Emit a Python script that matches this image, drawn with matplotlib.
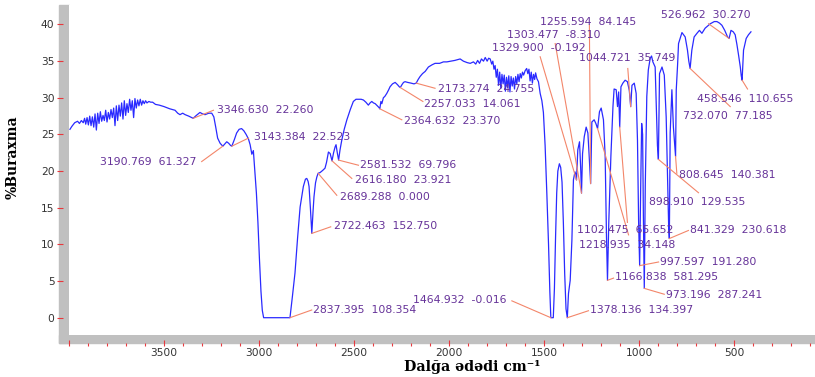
import matplotlib
matplotlib.use("Agg")
import matplotlib.pyplot as plt
import numpy as np
from matplotlib.patches import Rectangle
from matplotlib.ticker import MultipleLocator

# IR transmission spectrum, wavenumber (cm-1) vs %T
WAVENUMBER = [
    3995, 3985, 3970, 3955, 3945, 3935, 3925, 3918, 3912, 3905, 3898, 3891,
    3884, 3877, 3870, 3863, 3856, 3849, 3842, 3835, 3828, 3821, 3814, 3807,
    3800, 3793, 3786, 3779, 3772, 3765, 3758, 3751, 3744, 3737, 3730, 3723,
    3716, 3709, 3702, 3695, 3688, 3681, 3674, 3667, 3660, 3653, 3646, 3639,
    3632, 3625, 3618, 3611, 3604, 3597, 3590, 3580, 3570, 3560, 3545, 3525,
    3500, 3470, 3442, 3428, 3416, 3402, 3389, 3370, 3346.630, 3330, 3311,
    3297, 3284, 3265, 3249, 3238, 3228, 3218, 3205, 3198, 3190.769, 3180,
    3170, 3160, 3150, 3143.384, 3130, 3118, 3105, 3092, 3080, 3068, 3056,
    3047, 3038, 3030, 3022, 3014, 3006, 2998, 2990, 2983, 2976, 2837.395,
    2825, 2811, 2797, 2784, 2767, 2756, 2749, 2742, 2737, 2730, 2722.463,
    2716, 2711, 2703, 2696, 2689.288, 2679, 2665, 2653, 2645, 2635, 2626,
    2616.180, 2608, 2600, 2595, 2589, 2581.532, 2574, 2565, 2552, 2538, 2520,
    2504, 2490, 2477, 2463, 2451, 2438, 2425, 2416, 2407, 2398, 2389, 2378,
    2370, 2364.632, 2359, 2354, 2346, 2338, 2328, 2318, 2311, 2298, 2284,
    2272, 2262, 2257.033, 2248, 2240, 2232, 2218, 2200, 2185, 2173.274, 2163,
    2153, 2140, 2126, 2109, 2090, 2074, 2050, 2030, 2012, 1990, 1970, 1955,
    1942, 1925, 1905, 1889, 1872, 1860, 1850, 1840, 1830, 1819, 1810, 1800,
    1792, 1784, 1776, 1770, 1764, 1758, 1752, 1746, 1740, 1734, 1728, 1722,
    1716, 1710, 1704, 1698, 1692, 1686, 1680, 1674, 1668, 1662, 1656, 1650,
    1644, 1638, 1632, 1626, 1620, 1614, 1608, 1600, 1592, 1586, 1580, 1574,
    1568, 1562, 1556, 1550, 1545, 1538, 1530, 1521, 1512, 1504, 1495, 1486,
    1477, 1470, 1464.932, 1452, 1446, 1440, 1434, 1428, 1420, 1413, 1406,
    1399, 1392, 1385, 1378.136, 1372, 1363, 1354, 1346, 1338, 1333, 1329.900,
    1323, 1314, 1308, 1303.477, 1298, 1289, 1279, 1270, 1263, 1255.594, 1249,
    1237, 1228, 1218.935, 1209, 1200, 1188, 1179, 1172, 1166.838, 1160, 1149,
    1138, 1132, 1121, 1114, 1108, 1102.475, 1096, 1086, 1074, 1062, 1052,
    1044.721, 1038, 1026, 1016, 1009, 1003, 997.597, 992, 987, 982, 978,
    973.196, 968, 960, 952, 942, 935, 928, 916, 910, 904, 898.910, 893, 880,
    868, 858, 850, 845, 841.329, 837, 828, 820, 813, 808.645, 805, 798, 793,
    775, 758, 746, 739, 732.070, 723, 711, 696, 683, 670, 653, 626, 605, 591,
    578, 565, 550, 535, 526.962, 517, 505, 495, 486, 477, 468, 463, 458.546,
    451, 437, 425, 412,
]
TRANSMITTANCE = [
    25.7, 26.1, 26.6, 26.8, 26.5, 26.9, 26.6, 27.2, 26.4, 27.3, 26.3, 27.5,
    26.2, 27.4, 26.0, 27.8, 25.6, 27.9, 26.5, 28.1, 26.8, 27.6, 26.9, 28.3,
    26.7, 28.0, 27.1, 28.4, 27.3, 28.6, 26.2, 28.9, 26.9, 29.0, 27.5, 29.3,
    27.1, 29.6, 27.6, 29.2, 28.0, 29.8, 28.3, 29.6, 27.3, 29.9, 28.6, 29.7,
    28.9, 29.8, 29.0, 29.6, 29.2, 29.6, 29.3, 29.5, 29.4, 29.4, 29.1, 29.0,
    28.8, 28.5, 28.3, 27.9, 27.7, 27.9, 27.7, 27.5, 27.2, 27.6, 28.0,
    27.8, 27.7, 27.9, 27.9, 27.4, 26.0, 24.5, 23.8, 23.6, 23.4, 23.7,
    24.0, 23.8, 23.5, 23.4, 24.3, 25.2, 25.7, 25.8, 25.5, 25.0, 24.4,
    23.6, 22.3, 22.8, 20.0, 17.0, 13.0, 8.0, 3.6, 1.0, 0.0, 0.0,
    2.8, 6.1, 11.0, 15.1, 17.9, 18.9, 19.0, 18.6, 17.9, 15.0, 11.5,
    14.5, 16.5, 18.4, 19.2, 19.7, 19.8, 20.1, 20.4, 21.2, 22.6, 22.4,
    21.4, 22.5, 23.3, 23.6, 22.6, 21.5, 22.9, 24.2, 25.7, 27.0, 28.4,
    29.5, 29.8, 29.8, 29.8, 29.7, 29.4, 29.0, 29.3, 29.5, 29.3, 29.2, 28.9,
    28.7, 28.5, 29.5, 29.2, 30.0, 30.2, 30.6, 31.1, 31.5, 31.9, 32.1,
    31.8, 31.5, 31.4, 31.8, 32.1, 32.2, 32.1, 32.0, 31.9, 32.0, 32.5,
    32.9, 33.3, 33.6, 34.2, 34.5, 34.7, 34.7, 34.9, 34.9, 35.0, 35.1, 35.2,
    35.3, 35.0, 34.8, 34.7, 34.9, 34.6, 35.1, 34.7, 35.3, 35.0, 35.5, 35.0,
    35.4, 35.3, 34.6, 35.0, 33.9, 34.4, 32.8, 33.9, 31.7, 33.5, 31.3, 33.2,
    31.9, 33.1, 30.9, 32.8, 31.4, 33.0, 30.8, 32.9, 31.6, 32.7, 31.2, 32.9,
    31.9, 33.2, 32.2, 33.3, 32.7, 33.5, 33.1, 33.7, 34.0, 33.3, 33.9, 32.3,
    33.5, 32.0, 33.2, 32.5, 33.4, 32.6, 32.2, 30.6, 29.6, 28.0, 23.5, 17.0,
    10.0, 3.5, 0.0, 0.0, 4.0, 11.0, 17.0, 20.0, 21.0, 20.5, 18.5,
    13.0, 6.0, 1.2, 0.0, 3.3, 5.1, 10.6, 18.8, 19.9, 19.5, 18.8,
    22.9, 24.0, 20.5, 17.0, 22.4, 24.7, 26.0, 25.2, 22.0, 18.3, 26.7,
    27.0, 26.5, 25.8, 28.1, 28.6, 27.0, 22.0, 11.0, 5.1, 13.0, 22.0,
    28.8, 31.2, 31.1, 28.8, 30.8, 26.0, 31.5, 32.0, 32.4, 32.2, 31.0,
    28.8, 31.7, 32.0, 30.6, 24.2, 13.0, 7.1, 18.0, 26.5, 25.0, 14.0,
    4.0, 18.0, 30.2, 33.8, 35.4, 35.7, 34.9, 34.2, 29.0, 23.5, 21.6, 33.3, 34.2,
    33.1, 27.4, 18.0, 12.5, 10.8, 25.2, 31.1, 26.0, 23.5, 22.0, 31.1, 34.5, 37.4,
    38.9, 38.3, 36.5, 35.0, 34.0, 36.5, 38.3, 38.8, 39.2, 38.8, 39.5, 40.1, 40.4, 40.4,
    40.2, 39.9, 39.2, 38.3, 38.1, 39.2, 39.0, 38.6, 37.3, 35.8, 34.2, 33.0, 32.4,
    36.5, 38.1, 38.6, 39.0,
]

# peak picks: wavenumber and the instrument's second column
PEAK_WN = [
    3346.630, 3143.384, 3190.769, 2581.532, 2616.180, 2689.288, 2722.463,
    2837.395, 2364.632, 2257.033, 2173.274, 1464.932, 1378.136, 1329.900,
    1303.477, 1255.594, 1218.935, 1102.475, 1166.838, 1044.721, 997.597,
    973.196, 841.329, 898.910, 808.645, 732.070, 458.546, 526.962,
]
PEAK_VAL = [
    22.260, 22.523, 61.327, 69.796, 23.921, 0.000, 152.750,
    108.354, 23.370, 14.061, 24.755, -0.016, 134.397, -0.192,
    -8.310, 84.145, 34.148, 65.652, 581.295, 35.749, 191.280,
    287.241, 230.618, 129.535, 140.381, 77.185, 110.655, 30.270,
]

# label placement: leader end (x, y), text anchor (x, y), alignment
LABEL_LAYOUT = [
    ((3240, 28.3), (3223, 28.3), "left"),
    ((3056, 24.5), (3025, 24.7), "left"),
    ((3302, 21.3), (3328, 21.3), "right"),
    ((2477, 20.8), (2468, 20.8), "left"),
    ((2512, 19.0), (2495, 18.8), "left"),
    ((2591, 16.7), (2574, 16.5), "left"),
    ((2623, 12.4), (2605, 12.5), "left"),
    ((2723, 1.05), (2714, 1.05), "left"),
    ((2249, 27.0), (2240, 26.9), "left"),
    ((2138, 29.5), (2130, 29.15), "left"),
    ((2074, 31.3), (2056, 31.2), "left"),
    ((1670, 2.3), (1696, 2.4), "right"),
    ((1267, 0.95), (1258, 1.05), "left"),
    ((1521, 35.6), (1776, 36.75), "left"),
    ((1442, 37.4), (1696, 38.6), "left"),
    ((1262, 39.9), (1521, 40.4), "left"),
    ((1056, 11.3), (1319, 9.9), "left"),
    ((1062, 13.0), (1328, 12.0), "left"),
    ((1135, 5.4), (1126, 5.6), "left"),
    ((1060, 34.0), (1319, 35.4), "left"),
    ((898, 7.6), (890, 7.6), "left"),
    ((868, 3.2), (858, 3.1), "left"),
    ((741, 11.9), (732, 11.9), "left"),
    ((688, 17.05), (951, 15.8), "left"),
    ((802, 19.7), (793, 19.5), "left"),
    ((521, 28.8), (767, 27.5), "left"),
    ((430, 31.2), (696, 29.9), "left"),
    ((635, 40.1), (886, 41.3), "left"),
]

W, H = 815, 377
LINE_BLUE = "#2a2aff"
LEADER = "#f3866a"
LABEL_PURPLE = "#663399"
BAND_GRAY = "#c0c0c0"
TICK_RED = "#e8383d"


def draw_frame(fig):
    # gray bands standing in for the left and bottom axis lines
    fig.patches.append(Rectangle((59 / W, 1 - 343 / H), 10 / W, 338 / H,
                                 transform=fig.transFigure, color=BAND_GRAY,
                                 zorder=-1))
    fig.patches.append(Rectangle((59 / W, 1 - 343 / H), 756 / W, 8 / H,
                                 transform=fig.transFigure, color=BAND_GRAY,
                                 zorder=-1))


def style_axes(ax):
    for side in ["top", "right", "left", "bottom"]:
        ax.spines[side].set_visible(False)
    ax.spines["left"].set_position(("outward", 9))
    ax.spines["bottom"].set_position(("outward", 8))

    ax.set_xlim(4000, 75)
    ax.set_ylim(-2.36, 42.66)
    ax.set_xticks(range(4000, 499, -500))
    ax.set_xticklabels([""] + [str(v) for v in range(3500, 499, -500)])
    ax.xaxis.set_minor_locator(MultipleLocator(100))
    ax.set_yticks(range(0, 41, 5))

    ax.tick_params(axis="both", which="both", direction="in", color=TICK_RED,
                   width=0.8, labelsize=7.7, labelcolor="#333333")
    ax.tick_params(axis="y", which="major", length=4.3, pad=1.4)
    ax.tick_params(axis="x", which="major", length=4.3, pad=1.6)
    ax.tick_params(axis="x", which="minor", length=2.2)


def label_peaks(ax):
    wn = np.array(WAVENUMBER)[::-1]
    tr = np.array(TRANSMITTANCE)[::-1]
    for w, val, (lead, txt, ha) in zip(PEAK_WN, PEAK_VAL, LABEL_LAYOUT):
        y_curve = np.interp(w, wn, tr)
        ax.plot([w, lead[0]], [y_curve, lead[1]], color=LEADER, lw=0.8,
                zorder=3)
        ax.text(txt[0], txt[1], f"{w:.3f}  {val:.3f}", ha=ha, va="center",
                fontsize=7.8, color=LABEL_PURPLE, zorder=4)


def main():
    fig = plt.figure(figsize=(W / 100, H / 100), dpi=100)
    ax = fig.add_axes([69 / W, 1 - 335 / H, 746 / W, 330 / H])
    draw_frame(fig)

    ax.plot(WAVENUMBER, TRANSMITTANCE, color=LINE_BLUE, lw=0.9, zorder=2)
    label_peaks(ax)
    style_axes(ax)

    fig.text(13 / W, 1 - 157 / H, "%Buraxma", rotation=90, ha="center",
             va="center", fontfamily="DejaVu Serif", fontweight="bold",
             fontsize=10)
    fig.text(404 / W, 1 - 371 / H, "Dalğa ədədi cm⁻¹",
             ha="left", va="baseline", fontfamily="DejaVu Serif",
             fontweight="bold", fontsize=10.2)

    fig.savefig("out.png", dpi=100)


if __name__ == "__main__":
    main()
